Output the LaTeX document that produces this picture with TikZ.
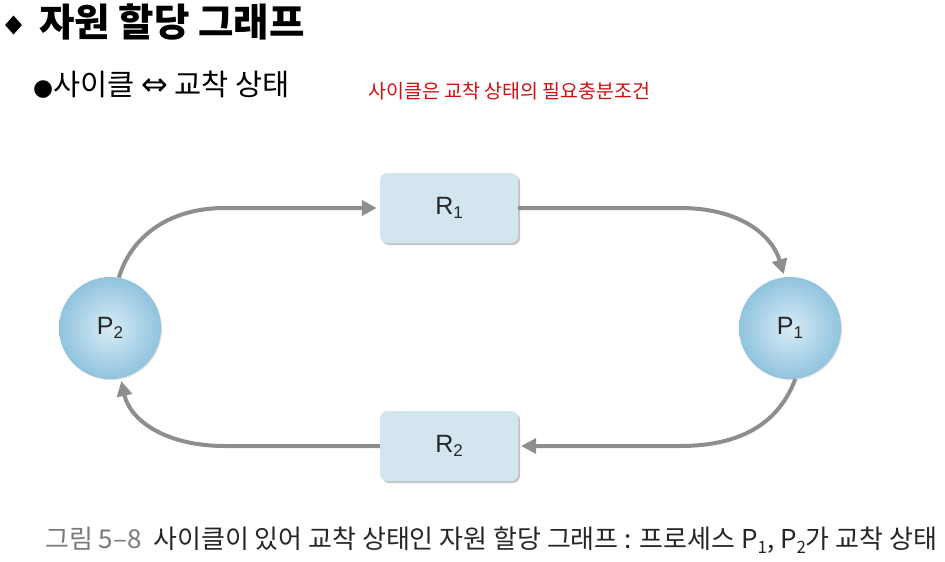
\documentclass[tikz,border=0pt]{standalone}
\usepackage{fontspec}
\setmainfont{Liberation Sans}
\newfontfamily\kr{Noto Sans CJK KR}
\newfontfamily\sym{DejaVu Sans}
\usetikzlibrary{arrows.meta,shadows,shapes.geometric}
\definecolor{boxfill}{HTML}{D3E6EF}
\definecolor{arrgray}{HTML}{8E8E8E}
\definecolor{pin}{HTML}{D8ECF6}
\definecolor{pout}{HTML}{90C3DE}
\definecolor{redtxt}{HTML}{D01010}
\definecolor{capgray}{HTML}{7A7A7A}
\definecolor{capdark}{HTML}{262626}
\newcommand\sbs[2]{\raisebox{-0.35ex}{\fontsize{#1}{#1}\selectfont #2}}
\tikzset{
  resbox/.style={rectangle, rounded corners=7pt, fill=boxfill, minimum width=138pt, minimum height=70pt,
    drop shadow={shadow xshift=2pt, shadow yshift=-2pt, fill=black!45, opacity=0.5}},
  proc/.style={circle, minimum size=102pt, inner color=pin, outer color=pout,
    drop shadow={shadow xshift=1pt, shadow yshift=-1pt, fill=black!40, opacity=0.35}},
  lbl/.style={font=\fontsize{25}{25}\selectfont, text=black!85},
  arr/.style={draw=arrgray, line width=4pt, -{Triangle[length=15pt,width=15pt]}, shorten >=3pt},
}
\begin{document}
\begin{tikzpicture}[x=1pt,y=-1pt]
\useasboundingbox (0,0) rectangle (945,562);
% title
\node[diamond, fill=black, inner sep=0pt, minimum width=17pt, minimum height=19pt] (dia) at (13.5,25) {};
\node[anchor=west, font=\kr\bfseries\fontsize{38.5}{38.5}\selectfont, inner sep=0pt] (title) at (39,22) {자원 할당 그래프};
\node[anchor=west, inner sep=0pt] (sub) at (33,85) {{\sym\fontsize{23}{23}\selectfont ●}{\kr\fontsize{29.5}{29.5}\selectfont 사이클\ }{\sym\fontsize{32}{32}\selectfont ⇔}{\kr\fontsize{29.5}{29.5}\selectfont\ 교착 상태}};
\node[anchor=west, inner sep=0pt, text=redtxt, font=\kr\fontsize{19.5}{19.5}\selectfont] (note) at (368,91) {사이클은 교착 상태의 필요충분조건};
% nodes
\node[resbox, lbl] (R1) at (449,208) {R\sbs{17}{1}};
\node[resbox, lbl] (R2) at (449,446) {R\sbs{17}{2}};
\node[proc, lbl] (P2) at (110,328) {P\sbs{17}{2}};
\node[proc, lbl] (P1) at (790,328) {P\sbs{17}{1}};
% arrows
\draw[arr] (P2.80) .. controls (130,240) and (165,208) .. (225,208) -- (R1.west);
\draw[arr] (R1.east) -- (680,208) .. controls (740,208) and (772,235) .. (P1.96);
\draw[arr] (P1.-84) .. controls (780,420) and (745,446) .. (680,446) -- (R2.east);
\draw[arr] (R2.west) -- (225,446) .. controls (165,446) and (130,420) .. (P2.-78);
% caption
\node[anchor=west, inner sep=0pt, font=\kr\fontsize{26}{26}\selectfont] (cap) at (45,540)
  {\textcolor{capgray}{그림 5–8}\ \ \textcolor{capdark}{사이클이 있어 교착 상태인 자원 할당 그래프 : 프로세스 P\sbs{17}{1}, P\sbs{17}{2}가 교착 상태}};
\end{tikzpicture}
\end{document}
